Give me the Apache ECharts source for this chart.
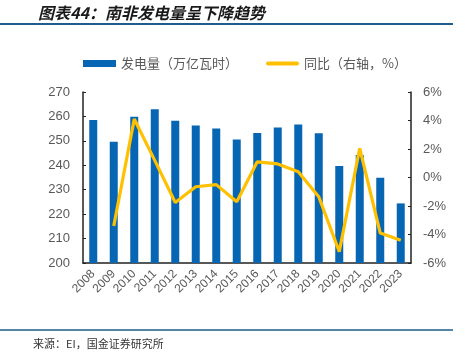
<!DOCTYPE html>
<html><head><meta charset="utf-8">
<script src="https://cdn.jsdelivr.net/npm/echarts@6/dist/echarts.min.js"></script>
<style>html,body{margin:0;padding:0;background:#fff}#c{width:465px;height:354px}</style>
</head><body><div id="c"></div>
<script>
var years = ['2008','2009','2010','2011','2012','2013','2014','2015','2016','2017','2018','2019','2020','2021','2022','2023'];
var generation = [258.5, 249.6, 259.9, 262.9, 258.2, 256.3, 255.1, 250.6, 253.2, 255.5, 256.7, 253.1, 239.7, 244.2, 234.9, 224.4];
var yoy = [null, -3.4, 4.1, 1.2, -1.75, -0.65, -0.5, -1.7, 1.1, 0.95, 0.4, -1.35, -5.2, 2.05, -3.9, -4.4];
var leftTicks = [200, 270, 10];
var rightTicks = [-6, 6, 2];

var chart = echarts.init(document.getElementById('c'), null, {renderer: 'canvas'});
var gray = '#595959';
chart.setOption({
  animation: false,
  title: {
    text: '图表44：南非发电量呈下降趋势',
    left: 33, top: 0,
    textStyle: {fontSize: 16, fontWeight: 'bold', fontStyle: 'italic', color: '#1a1a1a', fontFamily: 'Noto Sans CJK SC'}
  },
  graphic: [
    {type: 'line', shape: {x1: 0, y1: 24, x2: 453, y2: 24}, style: {stroke: '#1f5c8b', lineWidth: 2}},
    {type: 'line', shape: {x1: 0, y1: 330, x2: 453, y2: 330}, style: {stroke: '#1f5c8b', lineWidth: 1.5}},
    {type: 'text', left: 33, top: 338, style: {text: '来源：EI，国金证券研究所', fontSize: 11, fill: '#333', fontFamily: 'Noto Sans CJK SC'}}
  ],
  legend: {
    top: 52, left: 78,
    itemGap: 28,
    itemWidth: 33, itemHeight: 7,
    textStyle: {fontSize: 13, color: gray, fontFamily: 'Noto Sans CJK SC'},
    data: [
      {name: '发电量（万亿瓦时）', icon: 'rect'},
      {name: '同比（右轴，%）', icon: 'path://M2,2 L31,2 A2,2 0 0 1 31,6 L2,6 A2,2 0 0 1 2,2 Z', itemStyle: {color: '#FFC000'}}
    ]
  },
  grid: {left: 83, right: 54, top: 92, bottom: 91, containLabel: false},
  xAxis: {
    type: 'category', data: years, boundaryGap: true,
    axisLine: {onZero: false, lineStyle: {color: '#222', width: 1.5}},
    axisTick: {inside: true, length: 4, lineStyle: {color: '#222'}},
    axisLabel: {rotate: 45, color: gray, fontSize: 12, margin: 9, interval: 0, fontFamily: 'Liberation Sans'}
  },
  yAxis: [
    {
      type: 'value', min: leftTicks[0], max: leftTicks[1], interval: leftTicks[2],
      axisLine: {show: true, lineStyle: {color: '#222', width: 1.5}},
      axisTick: {show: true, inside: true, length: 3, lineStyle: {color: '#222'}},
      splitLine: {show: false},
      axisLabel: {color: gray, fontSize: 13, margin: 13, fontFamily: 'Liberation Sans'}
    },
    {
      type: 'value', min: rightTicks[0], max: rightTicks[1], interval: rightTicks[2],
      axisLine: {show: true, lineStyle: {color: '#222', width: 1.5}},
      axisTick: {show: true, inside: true, length: 3, lineStyle: {color: '#222'}},
      splitLine: {show: false},
      axisLabel: {color: gray, fontSize: 13, margin: 12, fontFamily: 'Liberation Sans', formatter: '{value}%'}
    }
  ],
  series: [
    {
      name: '发电量（万亿瓦时）', type: 'bar', data: generation, yAxisIndex: 0,
      barWidth: 8, itemStyle: {color: '#0766b4'}
    },
    {
      name: '同比（右轴，%）', type: 'line', data: yoy, yAxisIndex: 1,
      showSymbol: false, symbol: 'none',
      lineStyle: {color: '#FFC000', width: 3.2}, itemStyle: {color: '#FFC000'}
    }
  ]
});
</script></body></html>
